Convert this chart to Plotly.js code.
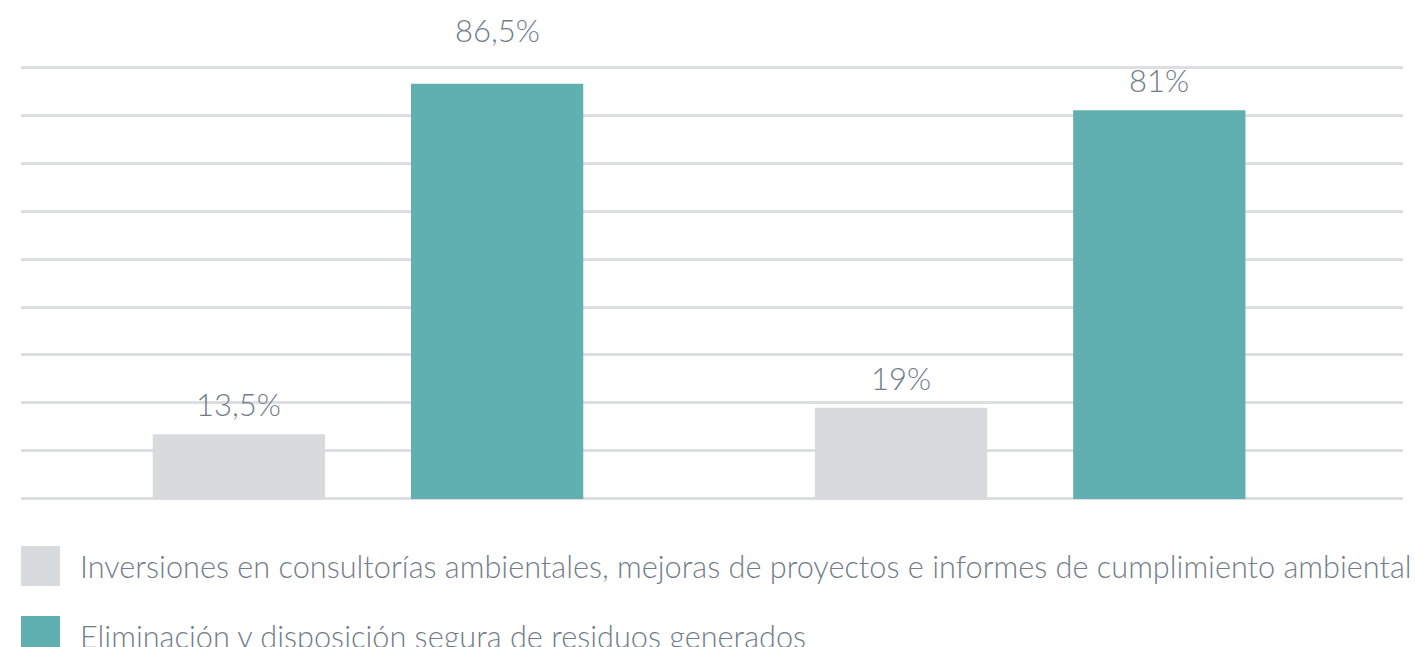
<!DOCTYPE html>
<html>
<head>
<meta charset="utf-8">
<script src="https://cdn.plot.ly/plotly-3.0.1.min.js"></script>
<style>html,body{margin:0;padding:0;background:#fff;}#chart{width:1415px;height:647px;}</style>
</head>
<body>
<div id="chart"></div>
<script>
const categories = ["Grupo 1", "Grupo 2"];
const seriesNames = [
  "Inversiones en consultorías ambientales, mejoras de proyectos e informes de cumplimiento ambiental",
  "Eliminación y disposición segura de residuos generados"
];
const inversiones = [13.5, 19];
const eliminacion = [86.5, 81];
const labelsInversiones = ["13,5%", "19%"];
const labelsEliminacion = ["86,5%", "81%"];
const yTicks = [0, 10, 20, 30, 40, 50, 60, 70, 80, 90];

const colors = ["#d8dbde", "#60b0b1"];
const textColor = "#737d88";
const font = {family: "Lato Light, Lato, sans-serif", weight: 300, color: textColor};

const series = [inversiones, eliminacion];
const labels = [labelsInversiones, labelsEliminacion];

const traces = series.map((vals, s) => ({
  type: "bar",
  x: categories,
  y: vals,
  name: seriesNames[s],
  marker: {color: colors[s], line: {width: 0}},
  hoverinfo: "none",
  showlegend: false
}));

const bargap = 0.22;
const groupW = 1 - bargap;
const annotations = [];
series.forEach((vals, s) => {
  vals.forEach((v, i) => {
    const off = (s - 0.5) * groupW / 2;
    const nearTop = v > yTicks[yTicks.length - 2] + 5;
    annotations.push({
      x: i + off, y: v, xref: "x", yref: "y",
      text: labels[s][i], showarrow: false,
      yanchor: "bottom", yshift: nearTop ? 33 : 9,
      font: Object.assign({}, font, {size: 31})
    });
  });
});

// custom legend
const plotH = 436, plotW = 1382;
const shapes = [];
seriesNames.forEach((name, s) => {
  const topPx = 45 + s * 70;
  shapes.push({
    type: "rect", xref: "paper", yref: "paper",
    x0: 0, x1: 39 / plotW,
    y0: -topPx / plotH, y1: -(topPx + 40) / plotH,
    fillcolor: colors[s], line: {width: 0}
  });
  annotations.push({
    xref: "paper", yref: "paper", x: 0, xshift: 57,
    y: -(topPx + 20) / plotH, xanchor: "left", yanchor: "middle",
    text: name, showarrow: false,
    font: Object.assign({}, font, {size: 30.7})
  });
});

const layout = {
  width: 1415, height: 647,
  margin: {l: 21, r: 12, t: 65, b: 146},
  paper_bgcolor: "#ffffff", plot_bgcolor: "#ffffff",
  barmode: "group", bargap: bargap, bargroupgap: 0.333,
  showlegend: false,
  xaxis: {type: "category", range: [-0.524, 1.563], showticklabels: false, showgrid: false, zeroline: false, showline: false, ticks: ""},
  yaxis: {range: [-0.42, 90.42], tickvals: yTicks, showticklabels: false, showgrid: true, gridcolor: "#dcdee1", gridwidth: 3, zeroline: false, showline: false, ticks: ""},
  annotations: annotations,
  shapes: shapes,
  font: font
};

Plotly.newPlot("chart", traces, layout, {displayModeBar: false, staticPlot: true});
</script>
</body>
</html>
